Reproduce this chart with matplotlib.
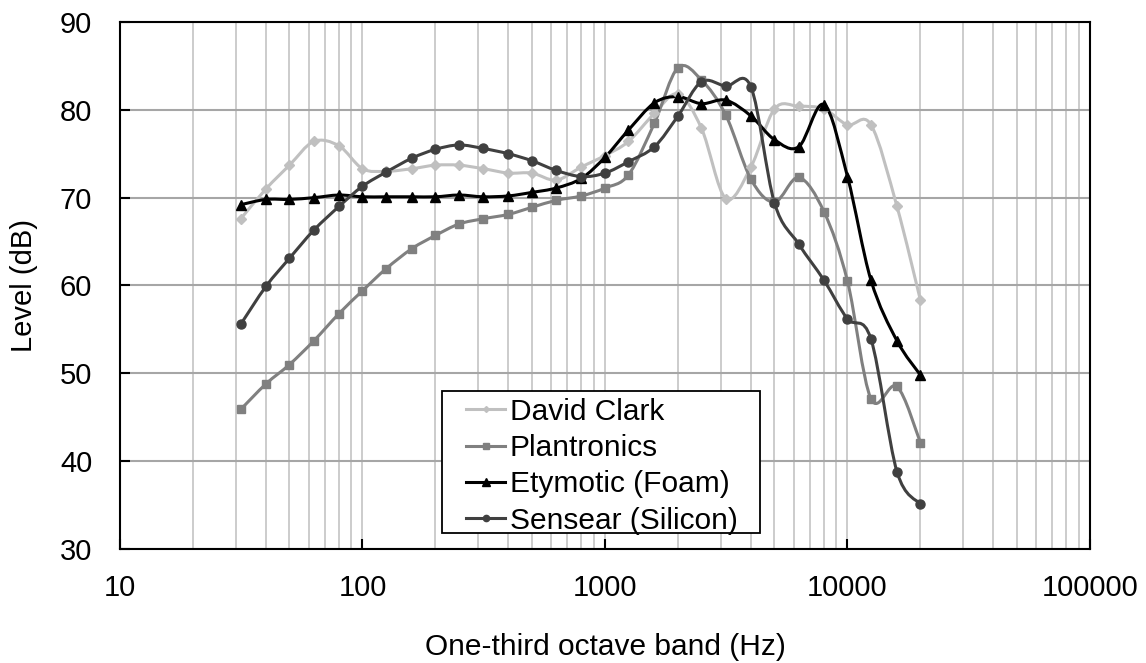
import numpy as np
import matplotlib.pyplot as plt
from matplotlib.path import Path
from matplotlib.patches import PathPatch, Rectangle
from matplotlib.lines import Line2D
from matplotlib.ticker import LogLocator, FixedLocator

plt.rcParams['font.family'] = ['Liberation Sans', 'DejaVu Sans']

# ---------------- DATA ---------------- #

freq = [31.5, 40, 50, 63, 80, 100, 125, 160, 200, 250, 315, 400, 500, 630, 800,
        1000, 1250, 1600, 2000, 2500, 3150, 4000, 5000, 6300, 8000, 10000,
        12500, 16000, 20000]

david_clark = [67.6, 71.0, 73.7, 76.4, 75.9, 73.3, 73.0, 73.3, 73.7, 73.7, 73.3,
               72.8, 72.8, 72.0, 73.5, 74.8, 76.4, 79.6, 81.8, 77.9, 69.9, 73.5,
               80.1, 80.4, 80.1, 78.3, 78.3, 69.0, 58.3]

plantronics = [45.9, 48.8, 51.0, 53.7, 56.8, 59.4, 61.9, 64.2, 65.7, 67.0, 67.6,
               68.1, 68.9, 69.7, 70.2, 71.1, 72.6, 78.5, 84.8, 83.4, 79.4, 72.1,
               69.5, 72.3, 68.4, 60.5, 47.1, 48.5, 42.1]

etymotic = [69.2, 69.8, 69.8, 70.0, 70.3, 70.1, 70.1, 70.1, 70.1, 70.3, 70.1,
            70.2, 70.6, 71.1, 72.2, 74.6, 77.7, 80.8, 81.5, 80.7, 81.1, 79.3,
            76.6, 75.8, 80.6, 72.4, 60.6, 53.7, 49.8]

sensear = [55.6, 59.9, 63.1, 66.3, 69.0, 71.3, 72.9, 74.5, 75.5, 76.0, 75.6,
           75.0, 74.2, 73.1, 72.4, 72.8, 74.1, 75.8, 79.3, 83.2, 82.7, 82.6,
           69.4, 64.7, 60.6, 56.2, 53.9, 38.8, 35.1]

series = [
    ("David Clark", david_clark, "#c0c0c0", "D", 5),
    ("Plantronics", plantronics, "#808080", "s", 6),
    ("Etymotic (Foam)", etymotic, "#000000", "^", 7.5),
    ("Sensear (Silicon)", sensear, "#404040", "o", 6.5),
]


def smooth_path(x, y):
    # Excel-style smoothed line: Catmull-Rom as cubic Bezier in (log x, y)
    lx = np.log10(x)
    y = np.asarray(y, dtype=float)
    p = np.column_stack([lx, y])
    verts = [p[0]]
    codes = [Path.MOVETO]
    n = len(p)
    for i in range(n - 1):
        p0 = p[i - 1] if i > 0 else p[i]
        p1 = p[i]
        p2 = p[i + 1]
        p3 = p[i + 2] if i + 2 < n else p[i + 1]
        c1 = p1 + (p2 - p0) / 6.0
        c2 = p2 - (p3 - p1) / 6.0
        verts += [c1, c2, p2]
        codes += [Path.CURVE4] * 3
    verts = np.array(verts)
    verts[:, 0] = 10 ** verts[:, 0]
    return Path(verts, codes)


# ---------------- PLOT ---------------- #

fig = plt.figure(figsize=(11.46, 6.63), dpi=100)
ax = fig.add_axes([0.1047, 0.172, 0.8464, 0.7948])

ax.set_xscale('log')
ax.set_xlim(10, 100000)
ax.set_ylim(30, 90)

handles = []
for name, vals, col, mk, ms in series:
    patch = PathPatch(smooth_path(freq, vals), facecolor='none', edgecolor=col,
                      lw=2.2, zorder=3, capstyle='round', joinstyle='round')
    ax.add_patch(patch)
    ax.plot(freq, vals, linestyle='none', marker=mk, color=col, ms=ms, zorder=4)
    handles.append(Line2D([], [], color=col, lw=2.2, marker=mk, ms=ms - 2))

# grid
ax.xaxis.set_major_locator(LogLocator(base=10, numticks=10))
ax.xaxis.set_minor_locator(LogLocator(base=10, subs=np.arange(2, 10), numticks=50))
ax.yaxis.set_major_locator(FixedLocator(np.arange(30, 91, 10)))
ax.grid(True, axis='x', which='both', color='#c4c4c4', lw=1.2, zorder=0)
ax.grid(True, axis='y', which='major', color='#a6a6a6', lw=1.5, zorder=0)
ax.set_axisbelow(True)

ax.set_xticks([10, 100, 1000, 10000, 100000])
ax.set_xticklabels(["10", "100", "1000", "10000", "100000"])
ax.tick_params(axis='both', which='major', direction='in', length=7, width=1.5,
               labelsize=21, colors='black')
ax.tick_params(axis='y', pad=20)
ax.tick_params(axis='x', pad=18)
ax.tick_params(axis='x', which='minor', length=0)
ax.tick_params(top=False, right=False)

for s in ax.spines.values():
    s.set_linewidth(1.5)
    s.set_color('black')

ax.set_xlabel("One-third octave band (Hz)", fontsize=21.5, va='center')
ax.xaxis.set_label_coords(0.5, -0.186)
ax.set_ylabel("Level (dB)", fontsize=21, va='center')
ax.yaxis.set_label_coords(-0.099, 0.5)

# legend frame drawn by hand, entries placed inside it
ax.add_patch(Rectangle((0.332, 0.031), 0.328, 0.268, transform=ax.transAxes,
                       facecolor='white', edgecolor='black', lw=1.3, zorder=5))
leg = ax.legend(handles, [s[0] for s in series], loc='upper left',
                bbox_to_anchor=(0.357, 0.287), fontsize=21.5, frameon=False,
                handlelength=1.3, handletextpad=0.15, labelspacing=0.28,
                borderpad=0, borderaxespad=0)
leg.set_zorder(6)

plt.savefig("out.png", dpi=100)
